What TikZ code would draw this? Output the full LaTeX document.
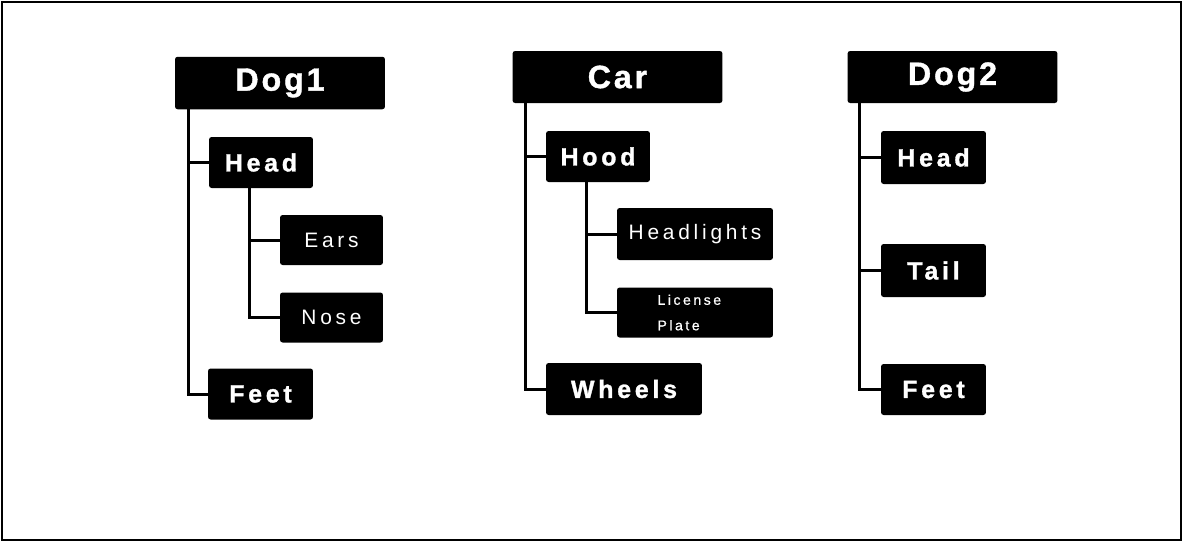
\documentclass[tikz,border=0pt]{standalone}
\usepackage{fontspec}
\setmainfont{Liberation Sans}
\newfontfamily\rootfont[LetterSpace=9, FakeBold=1.2]{Liberation Sans Bold}
\newfontfamily\partfont[LetterSpace=15, FakeBold=1.2]{Liberation Sans Bold}
\newfontfamily\leaffont[LetterSpace=18]{Liberation Sans}
\newfontfamily\smallfont[LetterSpace=18, FakeBold=0.6]{Liberation Sans}
\usetikzlibrary{positioning}

\begin{document}
\begin{tikzpicture}[
    x=0.02cm, y=-0.02cm,
    % boxes
    root/.style={rectangle, fill=black, rounded corners=1.5pt, text=white, minimum width=4.2cm, minimum height=1.05cm, inner sep=0pt, font=\rootfont\fontsize{18.3}{20}\selectfont},
    part/.style={rectangle, fill=black, rounded corners=1.5pt, text=white, minimum width=2.08cm, minimum height=1.02cm, inner sep=0pt, font=\partfont\fontsize{14.2}{16}\selectfont},
    leaf/.style={rectangle, fill=black, rounded corners=1.5pt, text=white, minimum width=2.06cm, minimum height=1.0cm, inner sep=0pt, font=\leaffont\fontsize{11.9}{14}\selectfont},
    tinyleaf/.style={leaf, align=left, font=\smallfont\fontsize{8}{14.5}\selectfont},
    tree/.style={line width=1.7pt, line cap=rect}
]
\useasboundingbox (0,0) rectangle (1184,542);
\draw[line width=1.1pt] (2,2) rectangle (1181,540);

% Dog1
\node[root] (dogone) at (280,83) {Dog1};
\node[part] (dhead) at (261,162.5) {Head};
\node[leaf] (ears) at (331.5,240) {Ears};
\node[leaf] (nose) at (331.5,317.5) {Nose};
\node[part] (dfeet) at (260.5,394) [minimum width=2.1cm] {Feet};

\draw[tree] ([xshift=14*0.02cm]dogone.south west) |- (dfeet.west);
\draw[tree] ([xshift=14*0.02cm]dogone.south west) |- (dhead.west);
\draw[tree] ([xshift=41*0.02cm]dhead.south west) |- (nose.west);
\draw[tree] ([xshift=41*0.02cm]dhead.south west) |- (ears.west);

% Car
\node[root] (car) at (617.5,77) [minimum height=1.04cm] {Car};
\node[part] (hood) at (598,156.5) {Hood};
\node[leaf] (lights) at (695,234) [minimum width=3.12cm, minimum height=1.04cm] {Headlights};
\node[tinyleaf] (plate) at (695,312.5) [minimum width=3.12cm, text width=1.5cm] {License\\Plate};
\node[part] (wheels) at (624,389) [minimum width=3.12cm, minimum height=1.04cm] {Wheels};

\draw[tree] ([xshift=13*0.02cm]car.south west) |- (wheels.west);
\draw[tree] ([xshift=13*0.02cm]car.south west) |- (hood.west);
\draw[tree] ([xshift=41*0.02cm]hood.south west) |- (plate.west);
\draw[tree] ([xshift=41*0.02cm]hood.south west) |- (lights.west);

% Dog2
\node[root] (dogtwo) at (952.5,77) [minimum height=1.04cm] {Dog2};
\node[part] (ehead) at (933.5,157.5) [minimum width=2.1cm, minimum height=1.06cm] {Head};
\node[part] (tail) at (933.5,270.5) [minimum width=2.1cm, minimum height=1.06cm] {Tail};
\node[part] (efeet) at (933.5,389.5) [minimum width=2.1cm] {Feet};

\draw[tree] ([xshift=12*0.02cm]dogtwo.south west) |- (efeet.west);
\draw[tree] ([xshift=12*0.02cm]dogtwo.south west) |- (tail.west);
\draw[tree] ([xshift=12*0.02cm]dogtwo.south west) |- (ehead.west);

\end{tikzpicture}
\end{document}
